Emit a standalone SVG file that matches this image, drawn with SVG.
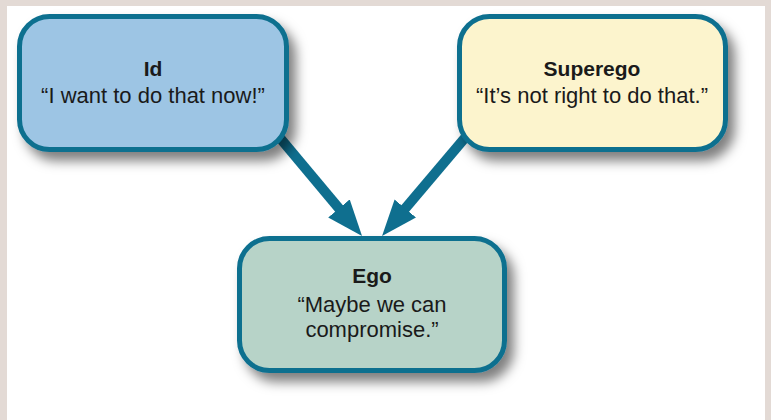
<svg xmlns="http://www.w3.org/2000/svg" width="771" height="420" viewBox="0 0 771 420">
<defs>
<style>
.box{stroke:#0f6f8f;stroke-width:5}
.t{font-family:"Liberation Sans",Arial,sans-serif;font-size:22px;fill:#1a1a1a;text-anchor:middle}
.b{font-weight:bold;font-size:21px}
.arr{stroke:#0f6f8f;stroke-width:10;fill:none}
</style>
<filter id="sh" x="-20%" y="-20%" width="150%" height="160%">
<feDropShadow dx="7" dy="9" stdDeviation="6" flood-color="#000" flood-opacity="0.5"/>
</filter>
<marker id="ah" markerUnits="userSpaceOnUse" markerWidth="40" markerHeight="30" refX="6" refY="14" orient="auto">
<path d="M0,0 L36,14 L0,28 z" fill="#0f6f8f"/>
</marker>
</defs>
<rect x="0" y="0" width="771" height="420" fill="#e3dad5"/>
<rect x="7" y="6" width="758" height="414" fill="#ffffff"/>
<g id="connectors">
<line class="arr" x1="270" y1="126" x2="342.8" y2="213" marker-end="url(#ah)"/>
<line class="arr" x1="475" y1="126" x2="401.4" y2="213.1" marker-end="url(#ah)"/>
</g>
<g id="id">
<rect class="box" x="19.5" y="16.5" width="267" height="133" rx="30" fill="#9dc5e4" filter="url(#sh)"/>
<text class="t b" x="153" y="76">Id</text>
<text class="t" x="153" y="103">“I want to do that now!”</text>
</g>
<g id="superego">
<rect class="box" x="459.5" y="16.5" width="266" height="133" rx="30" fill="#fcf4cd" filter="url(#sh)"/>
<text class="t b" x="592" y="76">Superego</text>
<text class="t" x="592" y="103">“It’s not right to do that.”</text>
</g>
<g id="ego">
<rect class="box" x="239.5" y="238.5" width="265" height="132" rx="30" fill="#b7d3c8" filter="url(#sh)"/>
<text class="t b" x="372" y="283">Ego</text>
<text class="t" x="372" y="312">“Maybe we can</text>
<text class="t" x="372" y="337">compromise.”</text>
</g>
</svg>
